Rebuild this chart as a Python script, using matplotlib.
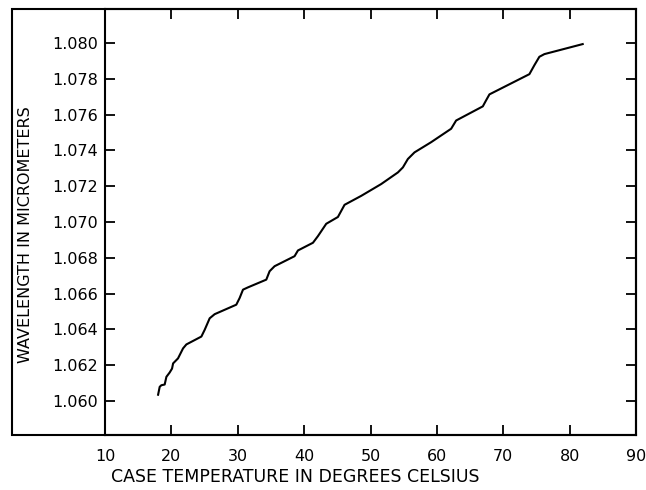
import matplotlib.pyplot as plt
from matplotlib.patches import Rectangle

# case temperature (deg C) and measured wavelength (um)
temp_c = [18.0, 18.24, 18.49, 18.99, 19.25, 19.74, 20.1, 20.26, 21.0, 21.76,
          22.26, 24.52, 25.01, 25.77, 26.52, 29.78, 30.28, 30.79, 31.55, 34.3,
          34.8, 35.55, 38.56, 39.07, 41.33, 42.08, 43.33, 45.09, 45.59, 46.09,
          48.6, 51.61, 54.13, 54.88, 55.63, 56.63, 59.14, 62.15, 62.9, 66.92,
          67.42, 67.92, 73.94, 74.69, 75.44, 76.2, 81.97]
wavelength_um = [1.06035, 1.06079, 1.06088, 1.06092, 1.06135, 1.06159, 1.06181,
                 1.06210, 1.06238, 1.06294, 1.06316, 1.06360, 1.06397, 1.06462,
                 1.06485, 1.06538, 1.06575, 1.06622, 1.06635, 1.06678, 1.06725,
                 1.06753, 1.06809, 1.06841, 1.06884, 1.06921, 1.06990, 1.07028,
                 1.07062, 1.07096, 1.07146, 1.07212, 1.07277, 1.07305, 1.07352,
                 1.07389, 1.07446, 1.07521, 1.07567, 1.07646, 1.07680, 1.07713,
                 1.07826, 1.07876, 1.07923, 1.07938, 1.07994]

x_ticks = [10, 20, 30, 40, 50, 60, 70, 80, 90]
y_ticks = [1.060, 1.062, 1.064, 1.066, 1.068, 1.070, 1.072, 1.074, 1.076, 1.078, 1.080]

W, H = 646, 490
fig = plt.figure(figsize=(W / 100, H / 100), dpi=100)
ax = fig.add_axes([105 / W, 1 - 435 / H, (636 - 105) / W, (435 - 9) / H])

ax.plot(temp_c, wavelength_um, color="black", lw=1.5)

ax.set_xlim(10, 90)
ax.set_ylim(1.0581, 1.0819)
ax.set_xticks(x_ticks)
ax.set_xticklabels([str(t) for t in x_ticks])
ax.set_yticks(y_ticks)
ax.set_yticklabels([f"{t:.3f}" for t in y_ticks])

ax.tick_params(direction="in", top=True, right=True, length=7, width=1.3,
               labelsize=11.5)
ax.tick_params(axis="x", pad=10)
ax.tick_params(axis="y", pad=5)
for sp in ax.spines.values():
    sp.set_linewidth(1.5)

# outer frame around the tick labels
frame = Rectangle((12 / W, 1 - 435 / H), (636 - 12) / W, (435 - 9) / H,
                  transform=fig.transFigure, fill=False, lw=1.5,
                  edgecolor="black")
fig.patches.append(frame)

fig.text(295 / W, 1 - 477 / H, "CASE TEMPERATURE IN DEGREES CELSIUS",
         ha="center", va="center", fontsize=12.5)
fig.text(25.5 / W, 1 - 235 / H, "WAVELENGTH IN MICROMETERS",
         ha="center", va="center", rotation=90, fontsize=11.5)

fig.savefig("out.png", dpi=100)
